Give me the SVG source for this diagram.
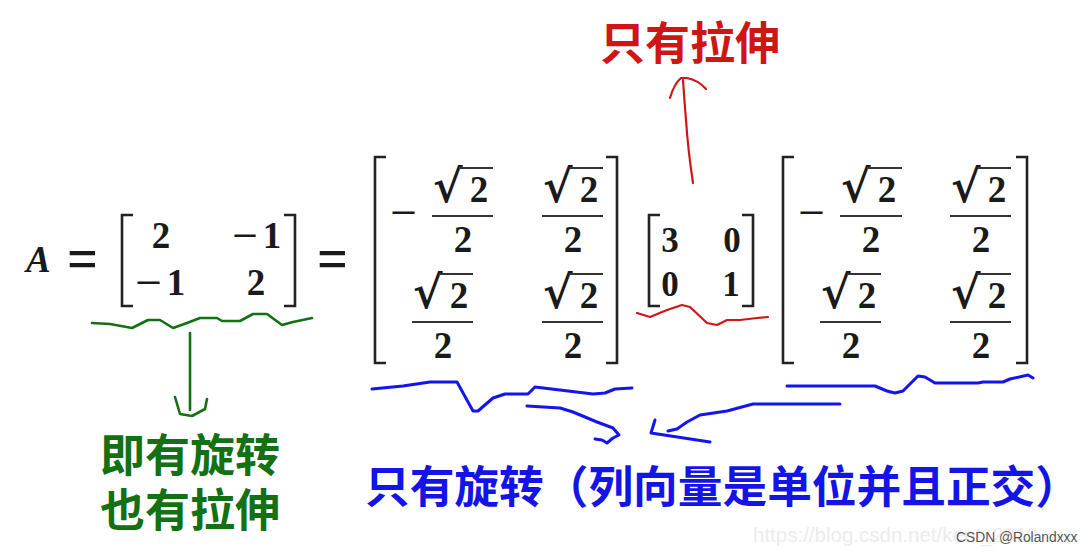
<svg xmlns="http://www.w3.org/2000/svg" width="1092" height="553" viewBox="0 0 1092 553">
<style>
.m{font-family:"Liberation Serif","Times New Roman",serif;font-weight:bold;font-size:37px;fill:#1a1a1a}
.ms{font-size:35px}
.eq{font-size:62px}
.rad{font-family:"DejaVu Serif","Liberation Serif",serif;font-weight:bold;font-size:45px;fill:#1a1a1a}
.br{fill:none;stroke:#222;stroke-width:2.6;stroke-linecap:butt}
.bar{stroke:#333;stroke-width:2.2}
.cjk{font-family:"Noto Sans CJK SC","Noto Sans CJK JP",sans-serif;font-weight:bold}
.hw{fill:none;stroke-linecap:round;stroke-linejoin:round}
.g{stroke:#137013;stroke-width:2.6}
.r{stroke:#d01515;stroke-width:2.2}
.b{stroke:#1414f0;stroke-width:3}
</style>
<rect width="1092" height="553" fill="#fff"/>

<g id="eq-A">
<text class="m" x="26" y="272" font-style="italic" font-size="42">A</text>
<text class="m eq" x="67" y="279" textLength="31" lengthAdjust="spacingAndGlyphs">=</text>
</g>

<g id="matrix-A">
<path class="br" d="M133,215 H122 V306 H133 M284,215 H295 V306 H284"/>
<text class="m" x="161" y="248" text-anchor="middle">2</text>
<text class="m" x="232" y="248" textLength="26" lengthAdjust="spacingAndGlyphs">−</text>
<text class="m" x="272" y="248" text-anchor="middle">1</text>
<text class="m" x="135" y="295" textLength="27" lengthAdjust="spacingAndGlyphs">−</text>
<text class="m" x="176" y="295" text-anchor="middle">1</text>
<text class="m" x="256" y="295" text-anchor="middle">2</text>
</g>

<g id="eq-2">
<text class="m eq" x="317" y="279" textLength="31" lengthAdjust="spacingAndGlyphs">=</text>
</g>

<g id="matrix-U">
<path class="br" d="M386,157 H375 V363 H386 M606,157 H617 V363 H606"/>
<text class="m" x="390" y="225" textLength="27" lengthAdjust="spacingAndGlyphs">−</text>
<g transform="translate(432,216)">
<line class="bar" x1="0" y1="0" x2="61" y2="0"/>
<text class="rad" x="1" y="-14">√</text>
<line class="bar" x1="27" y1="-48" x2="61" y2="-48"/>
<text class="m" x="47" y="-14" text-anchor="middle">2</text>
<text class="m" x="31" y="36" text-anchor="middle">2</text>
</g>
<g transform="translate(542,216)">
<line class="bar" x1="0" y1="0" x2="61" y2="0"/>
<text class="rad" x="1" y="-14">√</text>
<line class="bar" x1="27" y1="-48" x2="61" y2="-48"/>
<text class="m" x="47" y="-14" text-anchor="middle">2</text>
<text class="m" x="31" y="36" text-anchor="middle">2</text>
</g>
<g transform="translate(412,322)">
<line class="bar" x1="0" y1="0" x2="61" y2="0"/>
<text class="rad" x="1" y="-14">√</text>
<line class="bar" x1="27" y1="-48" x2="61" y2="-48"/>
<text class="m" x="47" y="-14" text-anchor="middle">2</text>
<text class="m" x="31" y="36" text-anchor="middle">2</text>
</g>
<g transform="translate(542,322)">
<line class="bar" x1="0" y1="0" x2="61" y2="0"/>
<text class="rad" x="1" y="-14">√</text>
<line class="bar" x1="27" y1="-48" x2="61" y2="-48"/>
<text class="m" x="47" y="-14" text-anchor="middle">2</text>
<text class="m" x="31" y="36" text-anchor="middle">2</text>
</g>
</g>

<g id="matrix-S">
<path class="br" d="M660,215 H649 V306 H660 M742,215 H753 V306 H742"/>
<text class="m ms" x="670" y="252" text-anchor="middle">3</text>
<text class="m ms" x="732" y="252" text-anchor="middle">0</text>
<text class="m ms" x="670" y="296" text-anchor="middle">0</text>
<text class="m ms" x="731" y="296" text-anchor="middle">1</text>
</g>

<g id="matrix-V">
<path class="br" d="M794,157 H783 V363 H794 M1016,157 H1027 V363 H1016"/>
<text class="m" x="798" y="225" textLength="27" lengthAdjust="spacingAndGlyphs">−</text>
<g transform="translate(840,216)">
<line class="bar" x1="0" y1="0" x2="62" y2="0"/>
<text class="rad" x="1" y="-14">√</text>
<line class="bar" x1="27" y1="-48" x2="62" y2="-48"/>
<text class="m" x="47" y="-14" text-anchor="middle">2</text>
<text class="m" x="31" y="36" text-anchor="middle">2</text>
</g>
<g transform="translate(950,216)">
<line class="bar" x1="0" y1="0" x2="61" y2="0"/>
<text class="rad" x="1" y="-14">√</text>
<line class="bar" x1="27" y1="-48" x2="61" y2="-48"/>
<text class="m" x="47" y="-14" text-anchor="middle">2</text>
<text class="m" x="31" y="36" text-anchor="middle">2</text>
</g>
<g transform="translate(820,322)">
<line class="bar" x1="0" y1="0" x2="61" y2="0"/>
<text class="rad" x="1" y="-14">√</text>
<line class="bar" x1="27" y1="-48" x2="61" y2="-48"/>
<text class="m" x="47" y="-14" text-anchor="middle">2</text>
<text class="m" x="31" y="36" text-anchor="middle">2</text>
</g>
<g transform="translate(950,322)">
<line class="bar" x1="0" y1="0" x2="61" y2="0"/>
<text class="rad" x="1" y="-14">√</text>
<line class="bar" x1="27" y1="-48" x2="61" y2="-48"/>
<text class="m" x="47" y="-14" text-anchor="middle">2</text>
<text class="m" x="31" y="36" text-anchor="middle">2</text>
</g>
</g>

<g id="label-stretch">
<text class="cjk" x="600" y="60" font-size="45" fill="#d01515">只有拉伸</text>
</g>
<g id="label-both">
<text class="cjk" font-size="45" fill="#137013"><tspan x="100" y="472">即有旋转</tspan><tspan x="100" y="527">也有拉伸</tspan></text>
</g>
<g id="label-rotate">
<text class="cjk" x="365" y="503" font-size="44.7" fill="#1414e6" textLength="715" lengthAdjust="spacing">只有旋转（列向量是单位并且正交）</text>
</g>

<g id="connectors">
<polyline class="hw g" points="92,323 110,324 132,328 148,320 160,320 173,328 187,323 200,318 217,318 222,321 240,321 253,314 267,314 282,325 293,322 312,318"/>
<path class="hw g" d="M190,333 L190,410 M175,397 L180,414 L192,416 L205,409 L207,399"/>
<polyline class="hw r" points="637,313 650,317 667,310 682,305 690,307 707,323 717,325 727,320 740,320 757,318 768,317"/>
<path class="hw r" d="M693,183 Q688,150 686,120 Q684,95 683,80 M670,98 Q674,84 681,78 L686,78 M687,78 Q698,80 706,89"/>
<polyline class="hw b" points="372,389 403,386 430,382 457,382 473,411 478,411 493,398 505,394 528,394 535,387 560,390 593,394 605,393 615,389 632,388"/>
<polyline class="hw b" points="527,406 560,408 573,412 597,422 613,428 619,435 613,438 607,443 602,440 595,439"/>
<polyline class="hw b" points="840,404 753,404 727,411 700,415 687,422 677,429 668,431"/>
<polyline class="hw b" points="655,420 651,433 710,442"/>
<polyline class="hw b" points="787,386 875,386 887,391 895,393 903,391 918,376 925,377 935,383 978,383 983,382 1003,382 1010,379 1028,375 1033,378"/>
</g>

<g id="watermark">
<text font-family="Liberation Sans, Arial, sans-serif"><tspan x="753" y="542" font-size="20.5" fill="#ececec">https://blog.csdn.net/kent_2012</tspan><tspan x="956" y="542" font-size="13.8" fill="#555">CSDN @Rolandxxx</tspan></text>
</g>
</svg>
